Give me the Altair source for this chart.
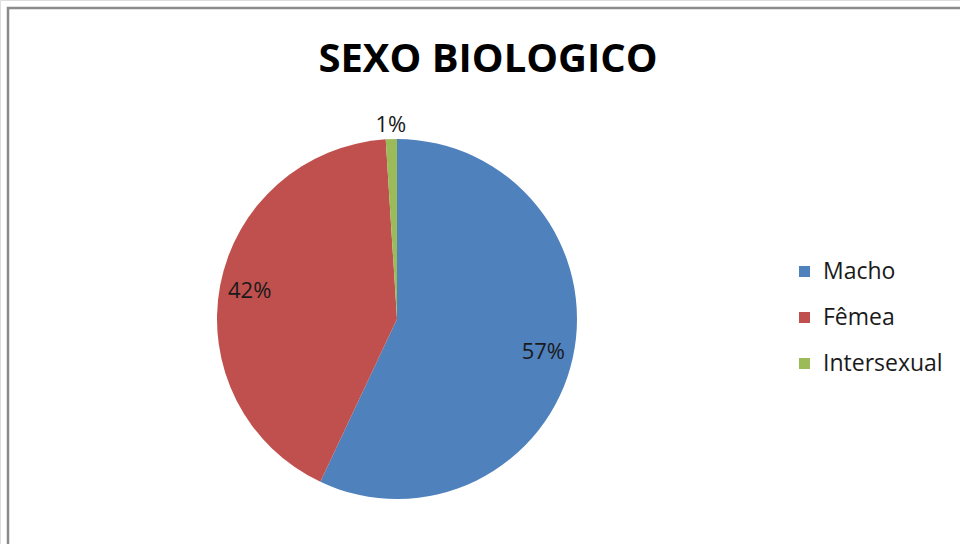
import altair as alt
import pandas as pd

categories = ["Macho", "Fêmea", "Intersexual"]
values = [57, 42, 1]
labels = ["57%", "42%", "1%"]
colors = ["#4F81BD", "#C0504D", "#9BBB59"]
title_text = "SEXO BIOLOGICO"

df = pd.DataFrame({
    "cat": categories,
    "val": values,
    "lab": labels,
    "ord": list(range(len(categories))),
})

FONT = "Open Sans"
CX, CY, R = 397, 319, 180

base = alt.Chart(df)

color = alt.Color(
    "cat:N",
    scale=alt.Scale(domain=categories, range=colors),
    sort=categories,
    legend=alt.Legend(
        title=None,
        orient="none",
        legendX=793,
        legendY=260,
        symbolType="square",
        symbolSize=121,
        symbolStrokeWidth=0,
        labelFontSize=23,
        labelFont=FONT,
        labelColor="#1a1a1a",
        labelOffset=7,
        rowPadding=22,
    ),
)

pie = base.mark_arc(outerRadius=R, stroke=None).encode(
    theta=alt.Theta("val:Q", stack=True),
    color=color,
    order=alt.Order("ord:Q"),
    x=alt.value(CX),
    y=alt.value(CY),
)

text = base.mark_text(fontSize=22, font=FONT, color="#1a1a1a").transform_window(
    cum="sum(val)", sort=[alt.SortField("ord")], frame=[None, 0]
).transform_joinaggregate(
    tot="sum(val)"
).transform_calculate(
    mid="(datum.cum - datum.val / 2) / datum.tot * 2 * PI",
    lr="datum.val < 5 ? 194 : 150",
).encode(
    theta=alt.Theta("mid:Q", scale=None),
    text="lab:N",
    radius=alt.Radius("lr:Q", scale=None),
    x=alt.value(CX),
    y=alt.value(CY),
)

title = alt.Chart(pd.DataFrame({"t": [title_text]})).mark_text(
    fontSize=40, font=FONT, fontWeight="bold", color="#000000"
).encode(text="t:N", x=alt.value(488), y=alt.value(60))

border = alt.Chart(pd.DataFrame({"t": [0]})).mark_rect(
    fill=None, stroke="#8a8a8a", strokeWidth=2.5
).encode(x=alt.value(8), y=alt.value(8), x2=alt.value(1000), y2=alt.value(600))

chart = alt.layer(border, pie, text, title).properties(
    width=960, height=544, padding=0,
    autosize=alt.AutoSizeParams(type="none"),
).configure_view(stroke=None).configure(background="white")

chart.save("out.html", embed_options={"renderer": "svg", "actions": False})
